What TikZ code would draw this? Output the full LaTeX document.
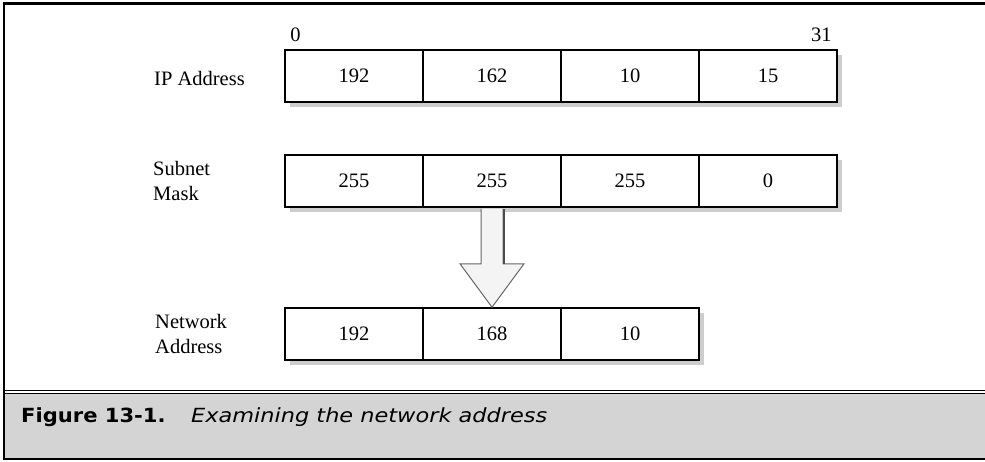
\documentclass[tikz,border=0pt]{standalone}
\usepackage{fontspec}
\setmainfont{Liberation Serif}
\setsansfont{DejaVu Sans}
\usepackage{graphicx}
\usepackage{tikz}
\usetikzlibrary{calc, shadows}

\definecolor{capgray}{RGB}{212,212,212}
\definecolor{shadegray}{RGB}{205,205,205}
\definecolor{arrowfill}{RGB}{244,244,244}

\tikzset{
  cell/.style={draw, line width=1.6pt, fill=white, minimum width=138pt,
    minimum height=52pt, inner sep=0pt, font=\fontsize{20.5}{24}\selectfont,
    general shadow={fill=shadegray, shadow xshift=5pt, shadow yshift=-5pt}},
  rowlabel/.style={anchor=west, align=left, inner sep=0pt,
    font=\fontsize{20.5}{24.5}\selectfont},
  bitlabel/.style={inner xsep=6pt, inner ysep=7pt, font=\fontsize{20.5}{24}\selectfont},
  arrowbody/.style={draw=black!60, line width=1pt, fill=arrowfill, line join=miter}
}

\begin{document}
\begin{tikzpicture}[x=1pt, y=-1pt]
  \useasboundingbox (0,0) rectangle (985,462);
  % --- Frame ---
  \fill[capgray] (4,393.5) rectangle (985,458);
  \draw[line width=2.5pt] (3,3.5) -- (985,3.5);
  \draw[line width=2.5pt] (4,3) -- (4,459.5);
  \draw[line width=1.4pt] (4,390.3) -- (985,390.3);
  \draw[line width=1.4pt] (4,393.2) -- (985,393.2);
  \draw[line width=2pt] (4,458.5) -- (985,458.5);
  % --- Rows of octets ---
  \foreach \v [count=\i] in {192,162,10,15}
    \node[cell] (ip\i) at ({285+138*\i-69},76) {\v};
  \foreach \v [count=\i] in {255,255,255,0}
    \node[cell] (sm\i) at ({285+138*\i-69},181) {\v};
  \foreach \v [count=\i] in {192,168,10}
    \node[cell] (na\i) at ({285+138*\i-69},334) {\v};
  % --- Bit positions ---
  \node[bitlabel, anchor=south west] (bitlo) at (ip1.north west) {0};
  \node[bitlabel, anchor=south east] (bithi) at (ip4.north east) {31};
  % --- Row labels ---
  \node[rowlabel] (iplbl) at (154,78) {IP Address};
  \node[rowlabel] (smlbl) at (153,181) {Subnet\\Mask};
  \node[rowlabel] (nalbl) at (155,334) {Network\\Address};
  % --- Block arrow ---
  \coordinate (atop) at ($(sm2.south)+(0,1)$);
  \draw[arrowbody] ($(atop)+(-11,0)$) -- ($(atop)+(-11,55)$) --
    ($(atop)+(-32,55)$) -- (na2.north) -- ($(atop)+(32,55)$) --
    ($(atop)+(11,55)$) -- ($(atop)+(11,0)$);
  \draw[line width=2.5pt, black!70] ($(atop)+(12,0)$) -- ($(atop)+(12,55)$);
  % --- Caption ---
  \node[anchor=base west, inner sep=0pt,
    font=\sffamily\bfseries\fontsize{19.5}{24}\selectfont] (figno) at (21,422)
    {\scalebox{1.08}[1]{Figure 13-1.}};
  \node[anchor=base west, inner sep=0pt,
    font=\sffamily\itshape\fontsize{19.5}{24}\selectfont] (figtitle) at (191,422)
    {\scalebox{1.15}[1]{Examining the network address}};
\end{tikzpicture}
\end{document}
